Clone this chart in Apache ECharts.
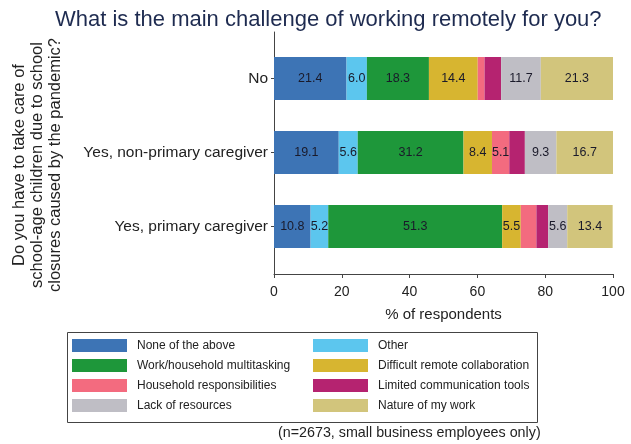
<!DOCTYPE html>
<html>
<head>
<meta charset="utf-8">
<script src="https://cdn.jsdelivr.net/npm/echarts@6/dist/echarts.min.js"></script>
<style>
html,body{margin:0;padding:0;background:#fff;}
#c{width:631px;height:444px;}
</style>
</head>
<body>
<div id="c"></div>
<script>
var categories = ['No', 'Yes, non-primary caregiver', 'Yes, primary caregiver'];
var seriesNames = ['None of the above', 'Other', 'Work/household multitasking', 'Difficult remote collaboration',
  'Household responsibilities', 'Limited communication tools', 'Lack of resources', 'Nature of my work'];
var noneOfAbove = [21.4, 19.1, 10.8];
var other = [6.0, 5.6, 5.2];
var multitasking = [18.3, 31.2, 51.3];
var collaboration = [14.4, 8.4, 5.5];
var household = [2.0, 5.1, 4.6];
var commTools = [4.9, 4.6, 3.5];
var resources = [11.7, 9.3, 5.6];
var nature = [21.3, 16.7, 13.4];
var xTicks = [0, 20, 40, 60, 80, 100];
var colors = ['#3D74B5', '#5CC6EE', '#1E973A', '#D7B530', '#F36B7F', '#B52370', '#BFBEC5', '#D2C57C'];

var values = [noneOfAbove, other, multitasking, collaboration, household, commTools, resources, nature];
var FONT = 'Liberation Sans, Arial, sans-serif';

var chart = echarts.init(document.getElementById('c'));
var series = seriesNames.map(function (name, i) {
  return {
    name: name,
    type: 'bar',
    stack: 'total',
    xAxisIndex: 0,
    yAxisIndex: 0,
    barWidth: 43,
    itemStyle: { color: colors[i] },
    label: {
      show: true,
      position: 'inside',
      fontFamily: FONT,
      fontSize: 12.5,
      color: '#1a1a2a',
      formatter: function (p) { return p.value >= 5 ? p.value.toFixed(1) : ''; }
    },
    data: values[i]
  };
});

chart.setOption({
  animation: false,
  backgroundColor: '#fff',
  title: {
    text: 'What is the main challenge of working remotely for you?',
    left: 50, top: 4,
    textStyle: { fontFamily: FONT, fontSize: 22, fontWeight: 'normal', color: '#1E2B50' }
  },
  grid: [
    { left: 274, right: 18, top: 41.5, height: 222 },
    { left: 274, right: 18, top: 32, bottom: 170 }
  ],
  xAxis: [
    { gridIndex: 0, type: 'value', min: 0, max: 100, show: false },
    {
      gridIndex: 1, type: 'value', min: 0, max: 100, interval: 20,
      axisLine: { show: true, lineStyle: { color: '#444', width: 1 } },
      axisTick: { show: true, length: 4, lineStyle: { color: '#444' } },
      splitLine: { show: false },
      axisLabel: { fontFamily: FONT, fontSize: 14, color: '#222', margin: 11,
        formatter: function (v) { return xTicks.indexOf(v) >= 0 ? String(v) : ''; } },
      name: '% of respondents', nameLocation: 'middle', nameGap: 33,
      nameTextStyle: { fontFamily: FONT, fontSize: 15, color: '#222' }
    }
  ],
  yAxis: [
    {
      gridIndex: 0, type: 'category', data: categories, inverse: true,
      axisLine: { show: false },
      axisTick: { show: true, length: 3, alignWithLabel: true, lineStyle: { color: '#444' } },
      axisLabel: { fontFamily: FONT, fontSize: 15.5, color: '#222', margin: 6 }
    },
    {
      gridIndex: 1, type: 'value', min: 0, max: 1,
      axisLine: { show: true, lineStyle: { color: '#444', width: 1 } },
      axisTick: { show: false }, axisLabel: { show: false }, splitLine: { show: false }
    }
  ],
  legend: [
    {
      data: [seriesNames[0], seriesNames[2], seriesNames[4], seriesNames[6]],
      orient: 'vertical', left: 72, top: 339, itemWidth: 55, itemHeight: 13, itemGap: 7,
      icon: 'rect', padding: 0,
      textStyle: { fontFamily: FONT, fontSize: 12, color: '#222', padding: [0, 0, 0, 5] }
    },
    {
      data: [seriesNames[1], seriesNames[3], seriesNames[5], seriesNames[7]],
      orient: 'vertical', left: 313, top: 339, itemWidth: 55, itemHeight: 13, itemGap: 7,
      icon: 'rect', padding: 0,
      textStyle: { fontFamily: FONT, fontSize: 12, color: '#222', padding: [0, 0, 0, 5] }
    }
  ],
  graphic: [
    {
      type: 'rect', left: 65, top: 330, shape: { width: 470, height: 90 },
      style: { fill: 'none', stroke: '#444', lineWidth: 1 }, silent: true
    },
    {
      type: 'text', x: 37, y: 165, rotation: Math.PI / 2,
      style: {
        text: 'Do you have to take care of\nschool-age children due to school\nclosures caused by the pandemic?',
        fontFamily: FONT, fontSize: 16.5, fill: '#222', textAlign: 'center', textVerticalAlign: 'middle', lineHeight: 18
      }
    },
    {
      type: 'text', left: 278, top: 426,
      style: { text: '(n=2673, small business employees only)', fontFamily: FONT, fontSize: 14.3, fill: '#222' }
    }
  ],
  series: series
});
</script>
</body>
</html>
